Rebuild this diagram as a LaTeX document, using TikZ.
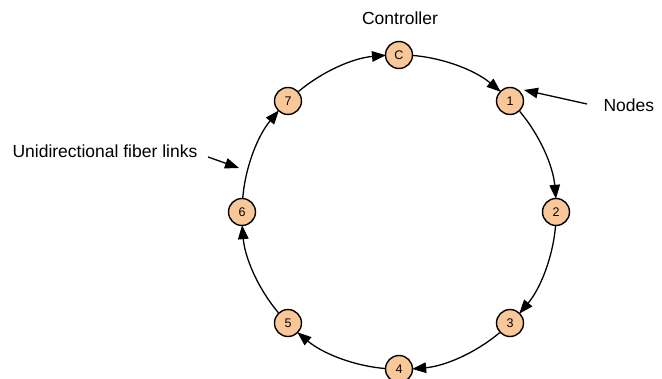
\documentclass[tikz,border=0pt]{standalone}
\usepackage{fontspec}
\setmainfont{Liberation Sans}
\usetikzlibrary{arrows.meta,calc}
\definecolor{nodefill}{RGB}{250,200,152}
\begin{document}
\begin{tikzpicture}[x=1pt,y=1pt,
  ringnode/.style={circle,draw=black,line width=1.4pt,fill=nodefill,
    minimum size=27pt,inner sep=0pt,font=\fontsize{12.5}{12.5}\selectfont},
  link/.style={line width=1.3pt,-{Triangle[length=14pt,width=10.5pt]}},
  label/.style={font=\fontsize{17.5}{18}\selectfont}]
\useasboundingbox (0,0) rectangle (662,379);
\coordinate (ctr) at (399,167);
% ring members, clockwise from the controller
\node[ringnode] (nc) at ($(ctr)+(90:157)$) {C};
\node[ringnode] (n1) at ($(ctr)+(45:157)$) {1};
\node[ringnode] (n2) at ($(ctr)+(0:157)$) {2};
\node[ringnode] (n3) at ($(ctr)+(-45:157)$) {3};
\node[ringnode] (n4) at ($(ctr)+(-90:157)$) {4};
\node[ringnode] (n5) at ($(ctr)+(-135:157)$) {5};
\node[ringnode] (n6) at ($(ctr)+(180:157)$) {6};
\node[ringnode] (n7) at ($(ctr)+(135:157)$) {7};
% unidirectional links: arcs of the ring from border to border
\foreach \a/\t in {nc/90,n1/45,n2/0,n3/-45,n4/-90,n5/-135,n6/180,n7/135}
  \draw[link] (\a.{\t-92.5}) arc[start angle=\t-4.95, end angle=\t-40.05, radius=157];
% labels
\node[label] (tc) at (400,361) {Controller};
\node[label,anchor=west] (tn) at (600,274) {Nodes};
\node[label,anchor=west] (tf) at (9,228) {Unidirectional fiber links};
\coordinate (pn0) at (587,275);
\coordinate (pn1) at (524,289);
\coordinate (pf0) at (208,222);
\coordinate (pf1) at (239,211);
\draw[link] (pn0) -- (pn1);
\draw[link] (pf0) -- (pf1);
\end{tikzpicture}
\end{document}
